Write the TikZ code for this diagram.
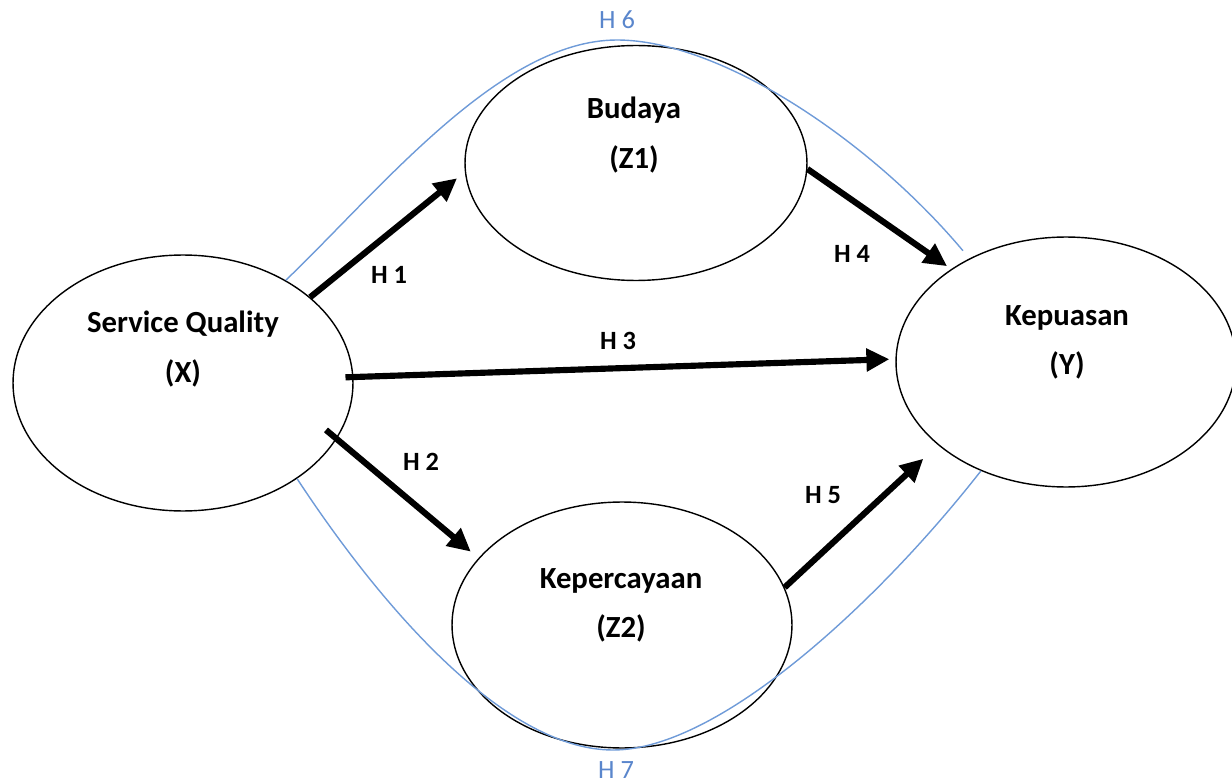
\documentclass[tikz,border=0pt]{standalone}
\usepackage{fontspec}
\setmainfont{Carlito}
\usepackage{tikz}
\usetikzlibrary{arrows.meta,shapes.geometric}
\definecolor{hypline}{HTML}{6F9BD8}
\definecolor{hyptext}{HTML}{5A86CC}
\tikzset{
  latent/.style={draw=black,ellipse,line width=0.8pt,minimum width=6.8cm,minimum height=5cm,inner sep=0pt},
  vname/.style={font=\fontsize{17.5}{28}\selectfont\bfseries,align=center,inner sep=0pt},
  effect/.style={-{Triangle[length=0.46cm,width=0.44cm]},line width=3.5pt},
  hlabel/.style={font=\fontsize{15}{18}\selectfont\bfseries,inner sep=0pt},
}

\begin{document}
\begin{tikzpicture}[x=0.02cm,y=-0.02cm,
  mediate/.style={draw=hypline,line width=0.8pt},
  mlabel/.style={font=\fontsize{15}{18}\selectfont,text=hyptext,inner sep=0pt}]
  \useasboundingbox (0,0) rectangle (1232,784);
  % variables
  \node[latent,minimum height=5.12cm] (sq) at (183,383) {};
  \node[latent,minimum width=6.84cm,minimum height=4.7cm] (bud) at (636,163) {};
  \node[latent,minimum height=4.92cm] (kpc) at (622,625) {};
  \node[latent] (kps) at (1066,362) {};
  \node[vname] (sqt) at (183,349) {Service Quality\\(X)};
  \node[vname] (budt) at (634,135) {Budaya\\(Z1)};
  \node[vname] (kpct) at (621,605) {Kepercayaan\\(Z2)};
  \node[vname] (kpst) at (1067,342) {Kepuasan\\(Y)};
  % direct paths
  \draw[effect,shorten >=0.2cm] (sq.34) -- (bud.183);
  \draw[effect,shorten <=-0.28cm,shorten >=0.2cm] (sq.-20) -- (kpc.155);
  \draw[effect,shorten <=-0.16cm,shorten >=0.12cm] (sq.2) -- (kps.179);
  \draw[effect,shorten >=0.1cm] (bud.-2) -- (kps.141);
  \draw[effect,shorten >=0.4cm] (kpc.13) -- (kps.213);
  \node[hlabel] (h1) at (389,275) {H 1};
  \node[hlabel] (h2) at (421,462) {H 2};
  \node[hlabel] (h3) at (618,341) {H 3};
  \node[hlabel] (h4) at (852,254) {H 4};
  \node[hlabel] (h5) at (823,495) {H 5};
  % mediation curves
  \coordinate (top6) at (617,40);
  \coordinate (bot7) at (613,750);
  \draw[mediate,shorten >=0.2cm] (sq.45) .. controls (380,190) and (500,40) .. (top6)
    .. controls (720,40) and (870,140) .. (kps.133);
  \draw[mediate] (sq.-40) .. controls (390,620) and (510,750) .. (bot7)
    .. controls (720,750) and (880,600) .. (kps.232);
  \node[mlabel] (h6) at (617,20) {H 6};
  \node[mlabel] (h7) at (616,770) {H 7};
\end{tikzpicture}
\end{document}
